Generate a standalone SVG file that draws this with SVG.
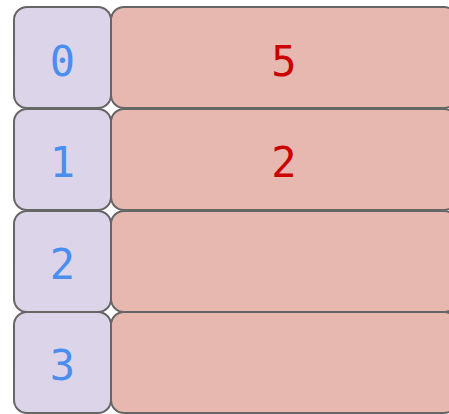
<svg xmlns="http://www.w3.org/2000/svg" width="449" height="414" viewBox="0 0 449 414">
<style>
.idx rect{fill:#dcd5ea;stroke:#666;stroke-width:2}
.val rect{fill:#e6b8b0;stroke:#666;stroke-width:2}
text{font-family:"DejaVu Sans Mono",monospace;font-size:42px;text-anchor:middle}
.idx text{fill:#4a8ef0}
.val text{fill:#cc0000}
</style>
<g id="connectors"/>
<g id="idx0" class="idx"><rect x="14" y="7" width="97" height="101" rx="13"/><text x="62.5" y="75.5">0</text></g>
<g id="val0" class="val"><rect x="111" y="7" width="346" height="101" rx="13"/><text x="284" y="75.5">5</text></g>
<g id="idx1" class="idx"><rect x="14" y="109" width="97" height="101" rx="13"/><text x="62.5" y="177">1</text></g>
<g id="val1" class="val"><rect x="111" y="109" width="346" height="101" rx="13"/><text x="284" y="177">2</text></g>
<g id="idx2" class="idx"><rect x="14" y="211" width="97" height="101" rx="13"/><text x="62.5" y="278.5">2</text></g>
<g id="val2" class="val"><rect x="111" y="211" width="346" height="101" rx="13"/></g>
<g id="idx3" class="idx"><rect x="14" y="312" width="97" height="101" rx="13"/><text x="62.5" y="380">3</text></g>
<g id="val3" class="val"><rect x="111" y="312" width="346" height="101" rx="13"/></g>
</svg>
